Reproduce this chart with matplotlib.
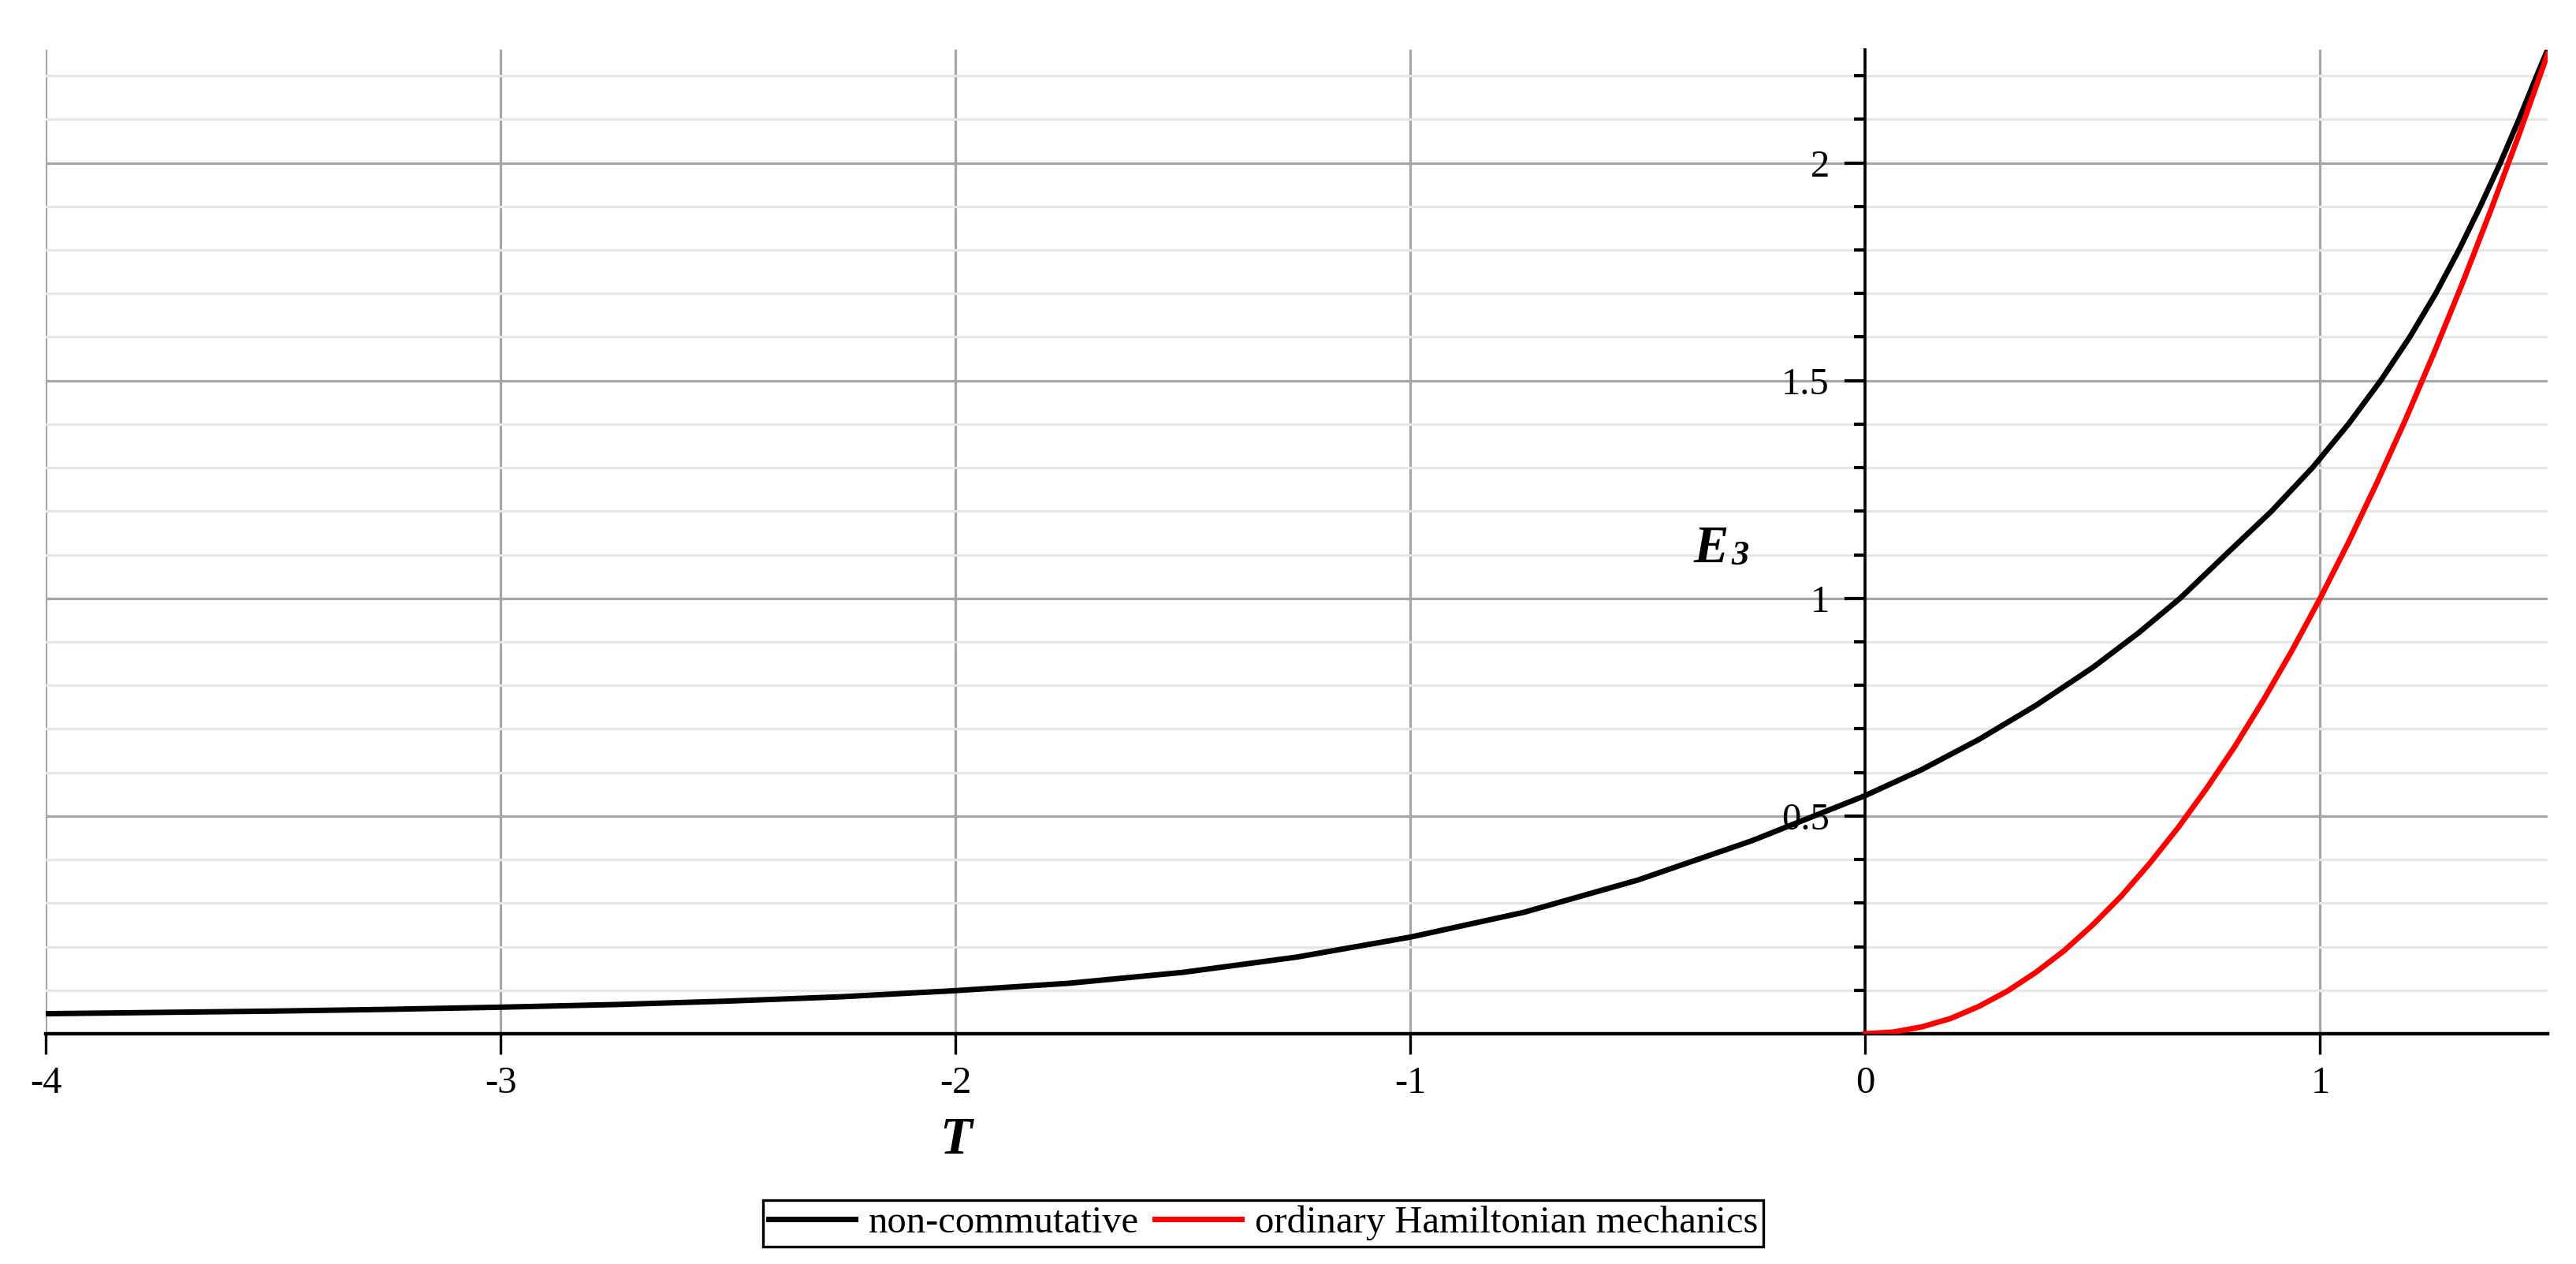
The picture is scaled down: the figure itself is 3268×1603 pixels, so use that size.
import matplotlib.pyplot as plt
from matplotlib.ticker import FixedLocator, NullLocator
from matplotlib.lines import Line2D

# non-commutative curve
T_nc = [-4.0, -3.75, -3.5, -3.25, -3.0, -2.75, -2.5, -2.25, -2.0, -1.75, -1.5,
        -1.25, -1.0, -0.75, -0.5, -0.25, 0.0, 0.125, 0.25, 0.375, 0.5, 0.6,
        0.692, 0.792, 0.893, 0.983, 1.062, 1.133, 1.197, 1.254, 1.305, 1.352,
        1.396, 1.437, 1.476, 1.5]
E_nc = [0.046, 0.049, 0.052, 0.056, 0.061, 0.067, 0.075, 0.085, 0.099, 0.116, 0.141,
        0.176, 0.222, 0.279, 0.353, 0.443, 0.547, 0.607, 0.676, 0.754, 0.841, 0.92,
        1.0, 1.1, 1.2, 1.3, 1.4, 1.5, 1.6, 1.7, 1.8, 1.9,
        2.0, 2.1, 2.2, 2.26]

# ordinary Hamiltonian mechanics curve
T_ham = [0.0, 0.0625, 0.125, 0.1875, 0.25, 0.3125, 0.375, 0.4375, 0.5, 0.5625,
         0.625, 0.6875, 0.75, 0.8125, 0.875, 0.9375, 1.0, 1.0625, 1.125, 1.1875,
         1.25, 1.3125, 1.375, 1.4375, 1.5]
E_ham = [0.0, 0.004, 0.016, 0.035, 0.063, 0.098, 0.141, 0.191, 0.25, 0.316,
         0.391, 0.473, 0.563, 0.66, 0.766, 0.879, 1.0, 1.129, 1.266, 1.41,
         1.563, 1.723, 1.891, 2.066, 2.25]

x_major = [-4, -3, -2, -1, 0, 1]
x_labels = ['-4', '-3', '-2', '-1', '0', '1']
y_major = [0.5, 1, 1.5, 2]
y_labels = ['0.5', '1', '1.5', '2']
y_minor = [0.1, 0.2, 0.3, 0.4, 0.6, 0.7, 0.8, 0.9, 1.1, 1.2, 1.3, 1.4,
           1.6, 1.7, 1.8, 1.9, 2.1, 2.2]

serif = 'Liberation Serif'

fig = plt.figure(figsize=(32.68, 16.03), dpi=100)
ax = fig.add_axes([0.01775, 0.18216, 0.97123, 0.77854])

ax.plot(T_nc, E_nc, color='black', lw=5, zorder=3, solid_joinstyle='round')
ax.plot(T_ham, E_ham, color='#ff0000', lw=5, zorder=3, solid_joinstyle='round')

ax.set_xlim(-4, 1.5)
ax.set_ylim(0, 2.26)

ax.xaxis.set_major_locator(FixedLocator(x_major))
ax.xaxis.set_minor_locator(NullLocator())
ax.set_xticklabels(x_labels)
ax.yaxis.set_major_locator(FixedLocator(y_major))
ax.yaxis.set_minor_locator(FixedLocator(y_minor))
ax.set_yticklabels(y_labels)

ax.set_axisbelow(True)
ax.grid(which='major', color='#a6a6a6', lw=2.3)
ax.grid(which='minor', axis='y', color='#e6e6e6', lw=2.3)

for s in ['top', 'right']:
    ax.spines[s].set_visible(False)
ax.spines['left'].set_position(('data', 0))
ax.spines['left'].set_linewidth(2.6)
ax.spines['bottom'].set_linewidth(3.2)

ax.tick_params(axis='x', which='major', direction='out', length=18.7, width=2.4,
               pad=11, labelsize=35)
ax.tick_params(axis='y', which='major', direction='out', length=18.7, width=3.0,
               pad=14, labelsize=35)
ax.tick_params(axis='y', which='minor', direction='out', length=10, width=3.0)
for lab in ax.get_xticklabels() + ax.get_yticklabels():
    lab.set_fontfamily(serif)

# axis labels, placed like the Maple output
fig.text(0.3648, 0.0873, 'T', fontsize=48, family=serif, weight='bold',
         style='italic', ha='left', va='baseline')
fig.text(0.6573, 0.5552, 'E', fontsize=48, family=serif, weight='bold',
         style='italic', ha='left', va='baseline')
fig.text(0.6720, 0.5533, '3', fontsize=32, family=serif, weight='bold',
         style='italic', ha='left', va='baseline')

handles = [Line2D([], [], color='black', lw=5),
           Line2D([], [], color='#ff0000', lw=5)]
leg = fig.legend(handles, ['non-commutative', 'ordinary Hamiltonian mechanics'],
                 loc='center', bbox_to_anchor=(0.4904, 0.0324), ncol=2,
                 frameon=True, fancybox=False, edgecolor='black', framealpha=1,
                 handlelength=2.26, handletextpad=0.35, columnspacing=0.4,
                 borderpad=0.15, borderaxespad=0,
                 prop={'family': serif, 'size': 35})
leg.get_frame().set_linewidth(2.4)

fig.savefig('out.png', dpi=100, facecolor='white')
